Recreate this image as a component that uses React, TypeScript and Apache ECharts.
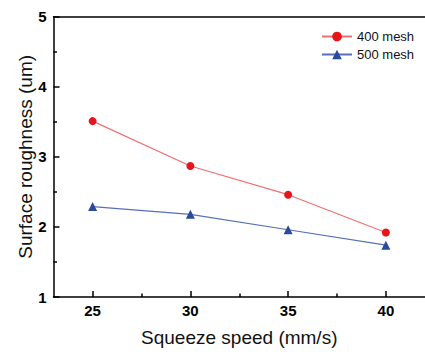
import React, { useEffect, useRef } from "react";
import * as echarts from "echarts";

const speeds = [25, 30, 35, 40];
const mesh400 = [3.51, 2.87, 2.46, 1.92];
const mesh500 = [2.29, 2.18, 1.96, 1.74];
const majorTicks = [25, 30, 35, 40];
const minorTicks = [27.5, 32.5, 37.5];

const FONT = "Liberation Sans, Arial, sans-serif";

export default function App() {
  const ref = useRef<HTMLDivElement>(null);
  useEffect(() => {
    const chart = echarts.init(ref.current!, null, { renderer: "svg" });
    const baseX = {
      type: "value",
      min: 23,
      max: 42,
      position: "bottom",
      splitLine: { show: false },
    };
    chart.setOption({
      animation: false,
      backgroundColor: "#fff",
      grid: { left: 53.5, top: 16.7, right: -2, bottom: 53 },
      legend: {
        orient: "vertical",
        left: 321,
        top: 30,
        padding: 0,
        itemWidth: 30,
        itemHeight: 12,
        itemGap: 5,
        textStyle: { fontFamily: FONT, fontSize: 13, color: "#111" },
        data: ["400 mesh", "500 mesh"],
      },
      xAxis: [
        {
          ...baseX,
          name: "Squeeze speed (mm/s)",
          nameLocation: "middle",
          nameGap: 31,
          nameMoveOverlap: false,
          nameTextStyle: { fontFamily: FONT, fontSize: 19, color: "#111" },
          axisLine: { show: true, lineStyle: { color: "#000", width: 1.5 } },
          axisTick: {
            show: true,
            inside: true,
            length: 6,
            customValues: majorTicks,
            lineStyle: { color: "#000", width: 1.5 },
          },
          axisLabel: {
            customValues: majorTicks,
            margin: 6,
            fontFamily: FONT,
            fontSize: 15,
            fontWeight: "bold",
            color: "#000",
          },
        },
        {
          ...baseX,
          axisLine: { show: false },
          axisTick: {
            show: true,
            inside: true,
            length: 3.5,
            customValues: minorTicks,
            lineStyle: { color: "#000", width: 1.5 },
          },
          axisLabel: { show: false },
        },
        {
          ...baseX,
          position: "top",
          axisLine: { show: true, lineStyle: { color: "#000", width: 1.5 } },
          axisTick: { show: false },
          axisLabel: { show: false },
        },
      ],
      yAxis: {
        type: "value",
        min: 1,
        max: 5,
        interval: 1,
        name: "Surface roughness (um)",
        nameLocation: "middle",
        nameGap: 19,
        nameMoveOverlap: false,
        nameTextStyle: { fontFamily: FONT, fontSize: 19, color: "#111" },
        splitLine: { show: false },
        axisLine: { show: true, lineStyle: { color: "#000", width: 1.5 } },
        axisTick: { show: true, inside: true, length: 6, lineStyle: { color: "#000", width: 1.5 } },
        minorTick: { show: true, splitNumber: 2, length: 3.5, lineStyle: { color: "#000", width: 1.5 } },
        axisLabel: {
          margin: 7,
          fontFamily: FONT,
          fontSize: 15,
          fontWeight: "bold",
          color: "#000",
        },
      },
      series: [
        {
          name: "400 mesh",
          type: "line",
          data: speeds.map((s, i) => [s, mesh400[i]]),
          symbol: "circle",
          symbolSize: 8,
          itemStyle: { color: "#e8141c" },
          lineStyle: { color: "#f07070", width: 1.2 },
        },
        {
          name: "500 mesh",
          type: "line",
          data: speeds.map((s, i) => [s, mesh500[i]]),
          symbol: "triangle",
          symbolSize: 9,
          itemStyle: { color: "#2a4a9c" },
          lineStyle: { color: "#5570b8", width: 1.2 },
        },
      ],
    });
    return () => chart.dispose();
  }, []);
  return <div ref={ref} style={{ width: 425, height: 352, position: "absolute", left: 0, top: 0 }} />;
}
